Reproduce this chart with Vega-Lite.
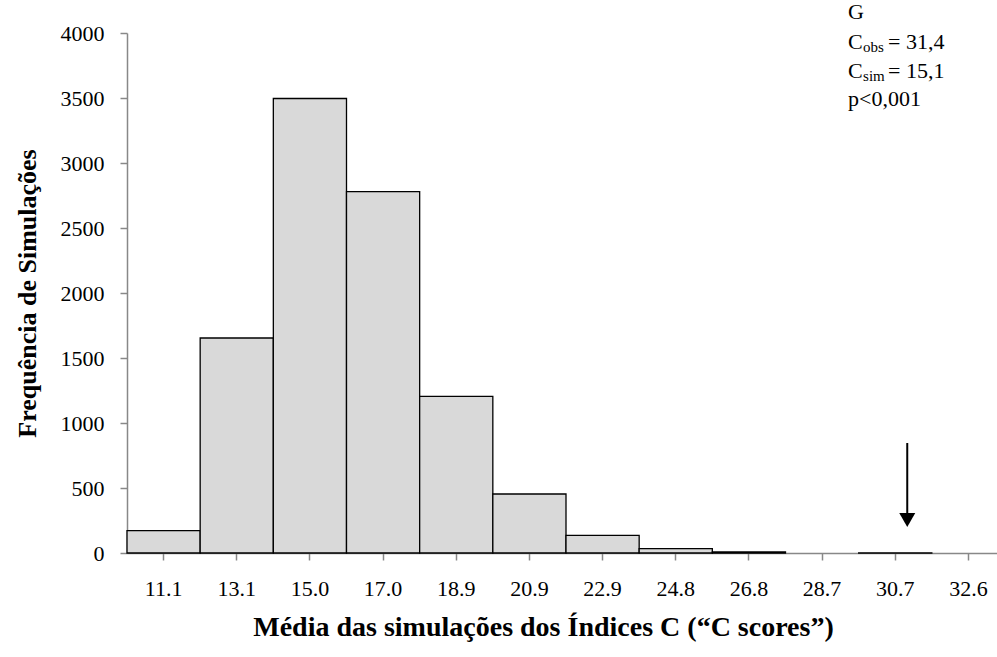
{
  "$schema": "https://vega.github.io/schema/vega-lite/v6.json",
  "width": 870,
  "height": 520,
  "autosize": {"type": "none"},
  "padding": {"left": 127, "top": 33, "right": 0, "bottom": 104},
  "background": "white",
  "config": {
    "view": {"stroke": null},
    "font": "Liberation Serif",
    "text": {"fontWeight": "normal", "font": "Liberation Serif"},
    "axis": {"labelFont": "Liberation Serif", "titleFont": "Liberation Serif", "labelColor": "black", "titleColor": "black", "grid": false, "domainColor": "#888888", "tickColor": "#888888", "domainWidth": 1.5, "tickWidth": 1.5}
  },
  "layer": [
    {
      "data": {
        "values": [
          {"bin": "11.1", "freq": 172},
          {"bin": "13.1", "freq": 1654},
          {"bin": "15.0", "freq": 3496},
          {"bin": "17.0", "freq": 2780},
          {"bin": "18.9", "freq": 1205},
          {"bin": "20.9", "freq": 454},
          {"bin": "22.9", "freq": 136},
          {"bin": "24.8", "freq": 33},
          {"bin": "26.8", "freq": 8},
          {"bin": "28.7", "freq": 0},
          {"bin": "30.7", "freq": 1},
          {"bin": "32.6", "freq": 0}
        ]
      },
      "mark": {"type": "bar", "fill": "#d9d9d9", "strokeWidth": 1.3},
      "encoding": {
        "x": {
          "field": "bin", "type": "ordinal", "sort": null,
          "scale": {"paddingInner": 0, "paddingOuter": 0, "range": [0, 878]},
          "axis": {"title": "Média das simulações dos Índices C (“C scores”)", "labelAngle": 0, "labelFontSize": 22, "titleFontSize": 28, "titleFontWeight": "bold", "tickSize": 7, "labelPadding": 18, "titlePadding": 14, "titleX": 416}
        },
        "y": {
          "field": "freq", "type": "quantitative",
          "scale": {"domain": [0, 4000], "nice": false},
          "axis": {"title": "Frequência de Simulações", "format": "d", "values": [0, 500, 1000, 1500, 2000, 2500, 3000, 3500, 4000], "labelFontSize": 22, "titleFontSize": 26, "titleFontWeight": "bold", "tickSize": 7, "labelPadding": 16, "titlePadding": 20}
        },
        "stroke": {"condition": {"test": "datum.freq > 0", "value": "black"}, "value": null}
      }
    },
    {
      "data": {"values": [{}]},
      "mark": {"type": "rule", "stroke": "black", "strokeWidth": 2, "xOffset": 12},
      "encoding": {"x": {"datum": "30.7"}, "y": {"datum": 846}, "y2": {"datum": 300}}
    },
    {
      "data": {"values": [{}]},
      "mark": {"type": "point", "shape": "triangle-down", "filled": true, "fill": "black", "opacity": 1, "size": 256, "xOffset": 12},
      "encoding": {"x": {"datum": "30.7"}, "y": {"datum": 254}}
    },
    {
      "data": {"values": [{}]},
      "mark": {"type": "text", "align": "left", "baseline": "middle", "fontSize": 22, "dx": 26, "color": "black"},
      "encoding": {"x": {"datum": "28.7"}, "y": {"datum": 4162}, "text": {"value": "G"}}
    },
    {
      "data": {"values": [{}]},
      "mark": {"type": "text", "align": "left", "baseline": "middle", "fontSize": 22, "dx": 26, "color": "black"},
      "encoding": {"x": {"datum": "28.7"}, "y": {"datum": 3931}, "text": {"value": "C"}}
    },
    {
      "data": {"values": [{}]},
      "mark": {"type": "text", "align": "left", "baseline": "middle", "fontSize": 15, "dx": 41, "color": "black"},
      "encoding": {"x": {"datum": "28.7"}, "y": {"datum": 3889}, "text": {"value": "obs"}}
    },
    {
      "data": {"values": [{}]},
      "mark": {"type": "text", "align": "left", "baseline": "middle", "fontSize": 22, "dx": 66, "color": "black"},
      "encoding": {"x": {"datum": "28.7"}, "y": {"datum": 3931}, "text": {"value": "= 31,4"}}
    },
    {
      "data": {"values": [{}]},
      "mark": {"type": "text", "align": "left", "baseline": "middle", "fontSize": 22, "dx": 26, "color": "black"},
      "encoding": {"x": {"datum": "28.7"}, "y": {"datum": 3708}, "text": {"value": "C"}}
    },
    {
      "data": {"values": [{}]},
      "mark": {"type": "text", "align": "left", "baseline": "middle", "fontSize": 15, "dx": 41, "color": "black"},
      "encoding": {"x": {"datum": "28.7"}, "y": {"datum": 3666}, "text": {"value": "sim"}}
    },
    {
      "data": {"values": [{}]},
      "mark": {"type": "text", "align": "left", "baseline": "middle", "fontSize": 22, "dx": 66, "color": "black"},
      "encoding": {"x": {"datum": "28.7"}, "y": {"datum": 3708}, "text": {"value": "= 15,1"}}
    },
    {
      "data": {"values": [{}]},
      "mark": {"type": "text", "align": "left", "baseline": "middle", "fontSize": 22, "dx": 26, "color": "black"},
      "encoding": {"x": {"datum": "28.7"}, "y": {"datum": 3492}, "text": {"value": "p<0,001"}}
    }
  ]
}
